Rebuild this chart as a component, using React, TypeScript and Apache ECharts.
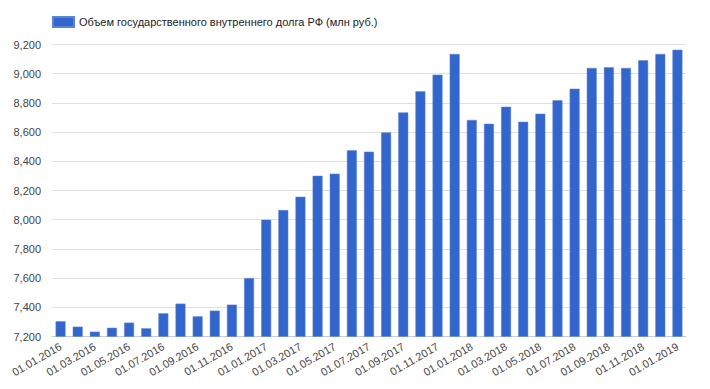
import React, { useEffect, useRef } from "react";
import * as echarts from "echarts";

const categories = [
  "01.01.2016", "01.02.2016", "01.03.2016", "01.04.2016", "01.05.2016", "01.06.2016",
  "01.07.2016", "01.08.2016", "01.09.2016", "01.10.2016", "01.11.2016", "01.12.2016",
  "01.01.2017", "01.02.2017", "01.03.2017", "01.04.2017", "01.05.2017", "01.06.2017",
  "01.07.2017", "01.08.2017", "01.09.2017", "01.10.2017", "01.11.2017", "01.12.2017",
  "01.01.2018", "01.02.2018", "01.03.2018", "01.04.2018", "01.05.2018", "01.06.2018",
  "01.07.2018", "01.08.2018", "01.09.2018", "01.10.2018", "01.11.2018", "01.12.2018",
  "01.01.2019",
];

const debtValues = [
  7304, 7267, 7233, 7260, 7295, 7256, 7359, 7425, 7338, 7377, 7418, 7600,
  8000, 8066, 8157, 8301, 8315, 8475, 8466, 8598, 8735, 8879, 8993, 9135,
  8683, 8657, 8774, 8671, 8726, 8818, 8897, 9039, 9044, 9039, 9092, 9135,
  9164,
];

const seriesName = "Объем государственного внутреннего долга РФ (млн руб.)";

export default function App() {
  const ref = useRef<HTMLDivElement>(null);
  useEffect(() => {
    if (!ref.current) return;
    const chart = echarts.init(ref.current, undefined, { renderer: "svg" });
    chart.setOption({
      animation: false,
      textStyle: { fontFamily: "Liberation Sans, Arial, sans-serif" },
      legend: {
        left: 47,
        top: 11,
        itemWidth: 21,
        itemHeight: 10,
        itemGap: 5,
        icon: "rect",
        textStyle: { fontSize: 11, color: "#222" },
        data: [seriesName],
      },
      grid: { left: 52, right: 24, top: 44.5, bottom: 52.5, containLabel: false },
      xAxis: {
        type: "category",
        data: categories,
        axisTick: { show: false },
        axisLine: { show: true, lineStyle: { color: "#ccc" } },
        axisLabel: {
          interval: 1,
          rotate: 30,
          fontSize: 11,
          color: "#444",
          margin: 9,
        },
      },
      yAxis: {
        type: "value",
        min: 7200,
        max: 9200,
        interval: 200,
        axisLine: { show: false },
        axisTick: { show: false },
        splitLine: { lineStyle: { color: "#e0e0e0" } },
        axisLabel: {
          fontSize: 11,
          color: "#444",
          margin: 11,
          formatter: (v: number) => v.toLocaleString("en-US"),
        },
      },
      series: [
        {
          name: seriesName,
          type: "bar",
          data: debtValues,
          barCategoryGap: "42%",
          itemStyle: { color: "#3366cc", borderColor: "#5b84d6", borderWidth: 0.5 },
        },
      ],
    });
    return () => chart.dispose();
  }, []);
  return (
    <div
      ref={ref}
      style={{ position: "fixed", left: 0, top: 0, width: 710, height: 389, background: "#fff" }}
    />
  );
}
